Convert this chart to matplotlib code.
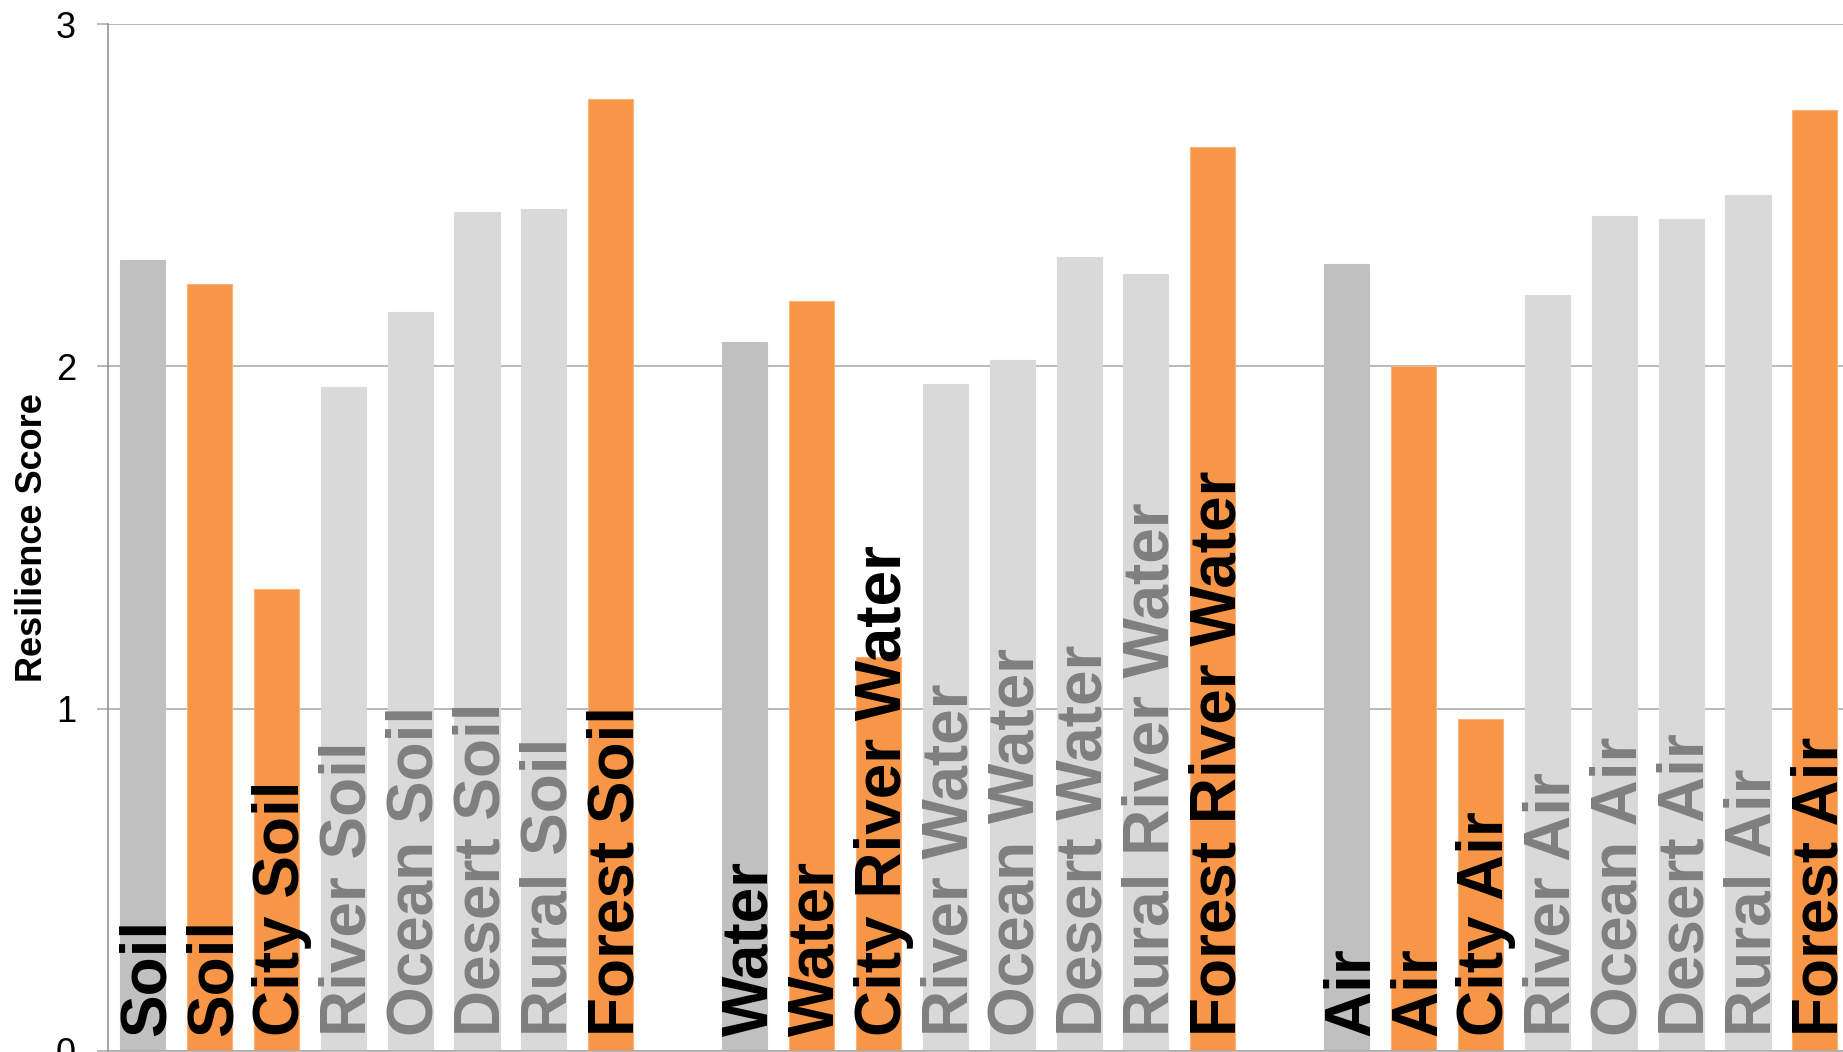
import matplotlib

matplotlib.use("Agg")
import matplotlib.pyplot as plt
import numpy as np

plt.rcParams["font.family"] = ["Liberation Sans", "DejaVu Sans"]

# Resilience scores per medium, one entry per environment
soil_labels = ["Soil", "Soil", "City Soil", "River Soil", "Ocean Soil", "Desert Soil", "Rural Soil", "Forest Soil"]
water_labels = ["Water", "Water", "City River Water", "River Water", "Ocean Water", "Desert Water",
                "Rural River Water", "Forest River Water"]
air_labels = ["Air", "Air", "City Air", "River Air", "Ocean Air", "Desert Air", "Rural Air", "Forest Air"]

soil_scores = [2.31, 2.24, 1.35, 1.94, 2.16, 2.45, 2.46, 2.78]
water_scores = [2.07, 2.19, 1.15, 1.95, 2.02, 2.32, 2.27, 2.64]
air_scores = [2.30, 2.00, 0.97, 2.21, 2.44, 2.43, 2.50, 2.75]

y_ticks = [0, 1, 2, 3]

# bar role within each group: reference, highlighted, other
bar_colors = ["#c1c0c1", "#f79646", "#f79646", "#d9d9d9", "#d9d9d9", "#d9d9d9", "#d9d9d9", "#f79646"]
text_colors = ["#000000", "#000000", "#000000", "#7f7f7f", "#7f7f7f", "#7f7f7f", "#7f7f7f", "#000000"]

groups = [(soil_labels, soil_scores), (water_labels, water_scores), (air_labels, air_scores)]

fig = plt.figure(figsize=(18.43, 10.52), dpi=100)
ax = fig.add_axes([0.0586, 0.001, 0.9414, 0.976])

for g, (labels, scores) in enumerate(groups):
    x = g * 9 + np.arange(len(scores))
    for xi, val, lab, bc, tc in zip(x, scores, labels, bar_colors, text_colors):
        edge = "#fab27b" if bc == "#f79646" else bc
        ax.bar(xi, val, width=0.673, color=bc, edgecolor=edge, linewidth=0.8, zorder=2)
        ax.text(xi + 0.335, 0.045, lab, rotation=90, rotation_mode="anchor",
                ha="left", va="baseline", fontsize=46, fontweight="bold", color=tc, zorder=3)

ax.set_xlim(-0.516, 25.42)
ax.set_ylim(0, 3)
ax.set_yticks(y_ticks)
ax.set_xticks([])
ax.yaxis.grid(True, color="#a6a6a6", linewidth=1.1)
ax.set_axisbelow(True)
ax.tick_params(axis="y", length=8, width=1.1, color="#a6a6a6", pad=15, labelsize=26)

for side in ["top", "right"]:
    ax.spines[side].set_visible(False)
ax.spines["left"].set_color("#8c8c8c")
ax.spines["left"].set_linewidth(1.1)
ax.spines["bottom"].set_color("#a6a6a6")
ax.spines["bottom"].set_linewidth(1.1)

fig.text(42 / 1843, 0.4886, "Resilience Score", rotation=90, rotation_mode="anchor",
         ha="center", va="baseline", fontsize=26, fontweight="bold")

fig.savefig("out.png", dpi=100)
plt.close(fig)
